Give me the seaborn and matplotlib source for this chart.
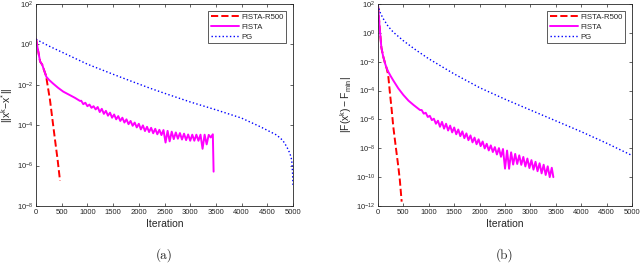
import matplotlib
matplotlib.use("Agg")
import matplotlib.pyplot as plt
import seaborn as sns
import pandas as pd
import numpy as np

sns.set_style("ticks")
plt.rcParams['font.family'] = ['Liberation Sans', 'DejaVu Sans']
plt.rcParams['mathtext.fontset'] = 'custom'
plt.rcParams['mathtext.rm'] = 'Liberation Sans'
plt.rcParams['mathtext.it'] = 'Liberation Sans'

# ---- panel (a): ||x^k - x*||, values as log10 exponents ----
a_pg_it = [0, 250, 500, 750, 1000, 1250, 1500, 1829, 2218, 2500, 3000, 3515, 4000,
           4358, 4683, 4800, 4877, 4940, 4974, 4990, 5000]
a_pg_exp = [0.25, -0.08, -0.38, -0.68, -0.98, -1.23, -1.48, -1.8, -2.17, -2.42, -2.85, -3.25, -3.65,
            -4.07, -4.49, -4.75, -5.06, -5.4, -5.72, -6.3, -7.05]

a_fista_it = [0, 40, 80, 120, 160, 200, 250, 337, 430, 531, 650, 760, 856,
              880, 920, 960, 1000, 1040, 1080, 1120, 1160, 1200, 1240, 1280, 1320, 1360, 1400,
              1440, 1480, 1520, 1560, 1600, 1640, 1680, 1720, 1760, 1800, 1840, 1880, 1920, 1960,
              2000, 2040, 2080, 2120, 2160, 2200, 2240, 2280, 2320, 2360, 2400, 2440, 2480, 2520,
              2560, 2600, 2640, 2680, 2720, 2760, 2800, 2840, 2880, 2920, 2960, 3000, 3040, 3080,
              3120, 3160, 3200, 3240, 3280, 3320, 3360, 3400, 3440, 3455]
a_fista_exp = [0.28, -0.3, -0.85, -1.0, -1.3, -1.6, -1.75, -1.95, -2.15, -2.34, -2.5, -2.65, -2.8,
               -2.79, -2.96, -2.89, -3.06, -2.98, -3.14, -3.06, -3.22, -3.10, -3.35, -3.19, -3.44, -3.29, -3.53,
               -3.38, -3.63, -3.47, -3.71, -3.55, -3.79, -3.63, -3.87, -3.71, -3.95, -3.79, -4.03, -3.87, -4.11,
               -3.93, -4.21, -4.01, -4.29, -4.08, -4.34, -4.13, -4.40, -4.18, -4.45, -4.23, -4.49, -4.24, -4.86,
               -4.28, -4.80, -4.32, -4.69, -4.36, -4.67, -4.39, -4.71, -4.42, -4.74, -4.46, -4.77, -4.47, -4.77,
               -4.47, -4.77, -4.47, -5.17, -4.47, -4.95, -4.48, -4.61, -4.45, -6.3]

a_r500_it = [0, 40, 80, 120, 160, 195, 272, 370, 420, 467]
a_r500_exp = [0.28, -0.3, -0.85, -1.0, -1.3, -1.55, -2.75, -4.73, -5.7, -6.75]

# ---- panel (b): |F(x^k) - F_min| ----
b_pg_it = [0, 25, 50, 100, 200, 300, 500, 750, 1000, 1500, 2000, 2500, 3000, 3500, 4000, 4500, 5000]
b_pg_exp = [1.93, 1.6, 1.35, 1.0, 0.45, 0.05, -0.55, -1.2, -1.8, -2.85, -3.8, -4.6, -5.35, -6.1, -6.85, -7.65, -8.5]

b_fista_it = [0, 30, 66, 100, 138, 170, 203, 250, 301, 400, 498, 600, 700, 827,
              860, 900, 940, 980, 1020, 1060, 1100, 1140, 1180, 1220, 1260, 1300, 1340, 1380,
              1420, 1460, 1500, 1540, 1580, 1620, 1660, 1700, 1740, 1780, 1820, 1860, 1900, 1940,
              1980, 2020, 2060, 2100, 2140, 2180, 2220, 2260, 2300, 2340, 2380, 2420, 2460, 2500,
              2540, 2580, 2620, 2660, 2700, 2740, 2780, 2820, 2860, 2900, 2940, 2980, 3020, 3060,
              3100, 3140, 3180, 3220, 3260, 3300, 3340, 3380, 3420, 3451]
b_fista_exp = [1.93, 0.5, -1.0, -1.6, -2.1, -2.45, -2.7, -3.0, -3.3, -3.85, -4.3, -4.7, -5.0, -5.35,
               -5.35, -5.60, -5.54, -5.83, -5.75, -6.05, -5.95, -6.30, -6.09, -6.51, -6.17, -6.64, -6.30, -6.77,
               -6.43, -6.90, -6.56, -7.03, -6.70, -7.16, -6.83, -7.30, -6.97, -7.44, -7.11, -7.59, -7.26, -7.72,
               -7.38, -7.85, -7.53, -8.01, -7.69, -8.15, -7.80, -8.26, -7.92, -8.43, -7.99, -8.59, -8.05, -9.41,
               -8.16, -9.42, -8.28, -9.13, -8.39, -9.09, -8.49, -9.15, -8.60, -9.26, -8.71, -9.37, -8.82, -9.48,
               -8.94, -9.59, -9.04, -9.74, -9.14, -9.85, -9.25, -10.0, -9.35, -10.0]

b_r500_it = [0, 30, 66, 100, 138, 170, 200, 236, 270, 301, 350, 400, 430, 466]
b_r500_exp = [1.93, 0.5, -1.0, -1.6, -2.1, -2.45, -2.9, -4.2, -5.35, -6.5, -7.9, -9.27, -10.2, -11.7]

legend_names = ['FISTA-R500', 'FISTA', 'PG']
xticks = list(range(0, 5001, 500))

fig = plt.figure(figsize=(6.4, 2.67), dpi=100)
ax1 = fig.add_axes([0.05625, 0.2285, 0.4016, 0.7566])
ax2 = fig.add_axes([0.5906, 0.2285, 0.397, 0.7566])

panels = [
    (ax1, a_r500_it, a_r500_exp, a_fista_it, a_fista_exp, a_pg_it, a_pg_exp,
     (1e-8, 1e2), [10.0 ** k for k in range(-8, 3, 2)],
     r'$||\mathrm{x}^\mathrm{k}\mathrm{-x}^\mathrm{*}||$', '(a)'),
    (ax2, b_r500_it, b_r500_exp, b_fista_it, b_fista_exp, b_pg_it, b_pg_exp,
     (1e-12, 1e2), [10.0 ** k for k in range(-12, 3, 2)],
     r'$|\mathrm{F(x}^\mathrm{k}\mathrm{)-F}_\mathrm{min}|$', '(b)'),
]

for ax, r_it, r_e, f_it, f_e, p_it, p_e, ylim, yticks, ylab, tag in panels:
    df_r = pd.DataFrame({'it': r_it, 'val': 10.0 ** np.array(r_e)})
    df_f = pd.DataFrame({'it': f_it, 'val': 10.0 ** np.array(f_e)})
    df_p = pd.DataFrame({'it': p_it, 'val': 10.0 ** np.array(p_e)})
    sns.lineplot(data=df_r, x='it', y='val', ax=ax, color='#ff0000', linestyle='--',
                 linewidth=1.4, estimator=None, sort=False, label=legend_names[0])
    sns.lineplot(data=df_f, x='it', y='val', ax=ax, color='#ff00ff', linestyle='-',
                 linewidth=1.4, estimator=None, sort=False, label=legend_names[1])
    sns.lineplot(data=df_p, x='it', y='val', ax=ax, color='#0000ff', linestyle=':',
                 linewidth=1.0, estimator=None, sort=False, label=legend_names[2])
    ax.set_yscale('log')
    ax.set_xlim(0, 5000)
    ax.set_ylim(*ylim)
    ax.set_yticks(yticks)
    ax.minorticks_off()
    ax.set_xticks(xticks)
    ax.tick_params(direction='in', top=True, right=True, length=2.5, width=0.5,
                   labelsize=5.5, colors='#262626', pad=2)
    for s in ax.spines.values():
        s.set_linewidth(0.6)
        s.set_color('#262626')
    ax.set_xlabel('Iteration', fontsize=7.5, labelpad=2)
    ax.set_ylabel(ylab, fontsize=7.5, labelpad=1)
    leg = ax.legend(loc='upper right', fontsize=5.6, handlelength=3.6, fancybox=False,
                    framealpha=1, edgecolor='#404040', borderpad=0.35, labelspacing=0.3,
                    handletextpad=0.3, borderaxespad=0.9)
    leg.get_frame().set_linewidth(0.6)
    ax.text(0.5, -0.245, tag, transform=ax.transAxes, ha='center', va='center',
            fontsize=9.5, family='cmr10')

fig.savefig('out.png', dpi=100)
